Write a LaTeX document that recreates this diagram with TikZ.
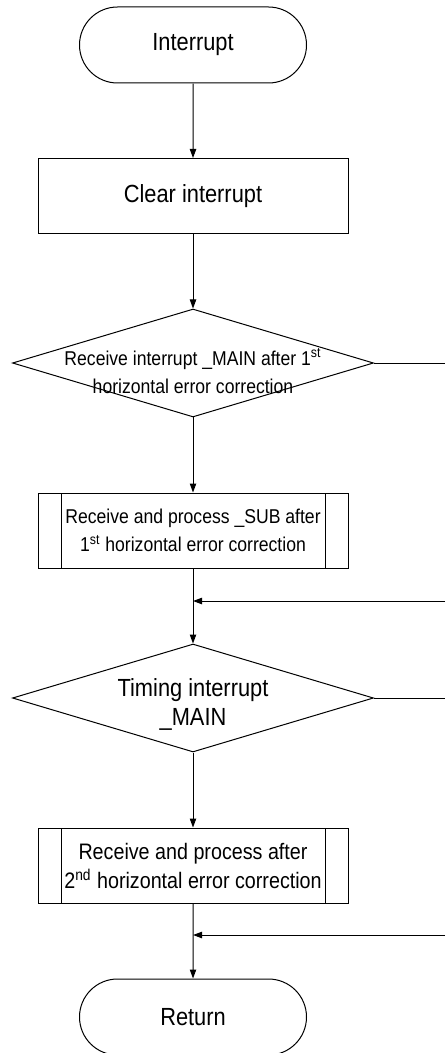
\documentclass[tikz,border=0pt]{standalone}
\usepackage{fontspec}
\setmainfont[FakeStretch=0.88]{Liberation Sans}
\usetikzlibrary{shapes.geometric,shapes.misc,arrows.meta}
\begin{document}
\begin{tikzpicture}[x=0.5pt,y=-0.5pt,line width=0.5pt,
  every node/.style={font=\fontsize{12.4}{14.5}\selectfont,align=center},
  small/.style={font=\fontsize{10}{14}\selectfont},
  mid/.style={font=\fontsize{11.2}{14.5}\selectfont},
  term/.style={draw,rounded rectangle,minimum width=113.5pt,minimum height=38pt,inner sep=0pt},
  proc/.style={draw,rectangle,minimum width=155pt,minimum height=37.5pt,inner sep=0pt},
  subproc/.style={proc,path picture={
    \draw ([xshift=11.5pt]path picture bounding box.north west)--([xshift=11.5pt]path picture bounding box.south west);
    \draw ([xshift=-11.5pt]path picture bounding box.north east)--([xshift=-11.5pt]path picture bounding box.south east);}},
  decision/.style={draw,diamond,minimum width=180.5pt,minimum height=54pt,inner sep=0pt},
  flow/.style={-{Triangle[length=4.5pt,width=3.2pt]}}]
\pgfmathsetmacro{\kx}{193}
\pgfmathsetmacro{\kr}{445}
\useasboundingbox (0,0) rectangle (\kr,1053);
%main column
\node[term] (start) at (\kx,45) {Interrupt};
\node[proc] (clear) at (\kx,196) {Clear interrupt};
\node[decision] (dec1) at (\kx,363) {};
\node[small] (dec1txt) at ([yshift=-4pt]dec1) {Receive interrupt \_MAIN after 1\textsuperscript{st}\\horizontal error correction};
\node[subproc] (sub1) at (\kx,530.5) {};
\node[small] (sub1txt) at (sub1) {Receive and process \_SUB after\\1\textsuperscript{st} horizontal error correction};
\node[decision] (dec2) at (\kx,698) {};
\node (dec2txt) at ([yshift=-3pt]dec2) {Timing interrupt\\\_MAIN};
\node[subproc,mid] (sub2) at (\kx,865.5) {Receive and process after\\2\textsuperscript{nd} horizontal error correction};
\node[term] (ret) at (\kx,1017) {Return};
%side branches
\coordinate (dec1r) at (\kr,363);
\coordinate (dec2r) at (\kr,698);
\coordinate (join1) at (\kx,601);
\coordinate (join1r) at (\kr,601);
\coordinate (join2) at (\kx,935);
\coordinate (join2r) at (\kr,935);
%connectors
\draw[flow] (start) -- (clear);
\draw[flow] (clear) -- (dec1);
\draw[flow] (dec1) -- (sub1);
\draw[flow] (sub1) -- (dec2);
\draw[flow] (dec2) -- (sub2);
\draw[flow] (sub2) -- (ret);
\draw (dec1.east) -- (dec1r);
\draw (dec2.east) -- (dec2r);
\draw[flow] (join1r) -- (join1);
\draw[flow] (join2r) -- (join2);
\end{tikzpicture}
\end{document}
